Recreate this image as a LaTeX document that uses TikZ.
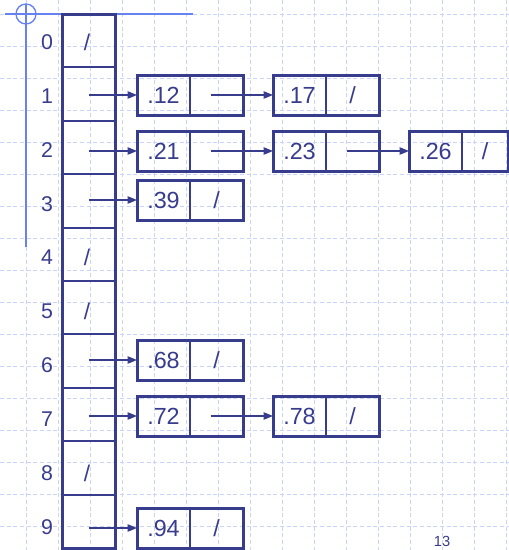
\documentclass[tikz,border=0pt]{standalone}
\usepackage{fontspec}
\setmainfont{Liberation Sans}
\usepackage{tikz}
\usetikzlibrary{arrows.meta, positioning}

\definecolor{navy}{RGB}{56,60,140}
\definecolor{gridblue}{RGB}{200,212,250}
\definecolor{decoblue}{RGB}{102,130,240}

% null pointer, set a little left of the cell centre
\newcommand{\nil}{/\hspace{9pt}}

\begin{document}
\begin{tikzpicture}[
    x=0.75pt, y=-0.75pt,
    grid/.style={draw=gridblue, line width=0.75pt, dash pattern=on 3pt off 2pt},
    deco/.style={draw=decoblue, line width=1pt},
    slot/.style={draw=navy, line width=1.5pt, minimum width=39.75pt, minimum height=40.05pt, inner sep=0pt, outer sep=0pt},
    frame/.style={draw=navy, line width=2.25pt},
    val/.style={draw=navy, line width=1.5pt, minimum width=39.75pt, minimum height=30pt, inner sep=0pt, outer sep=0pt, text=navy, font=\fontsize{17.5}{20}\selectfont},
    ptr/.style={val},
    idx/.style={text=navy, font=\fontsize{16}{18}\selectfont, inner sep=0pt},
    nil/.style={text=navy, font=\fontsize{17}{20}\selectfont, inner sep=0pt},
    link/.style={draw=navy, line width=0.9pt, -{Triangle[length=7pt, width=5.5pt]}},
    >=Stealth
]
\clip (0,0) rectangle (509,550);

% background grid of the slide
\foreach \i in {0,...,15}
  \draw[grid] (26+32*\i,0) -- (26+32*\i,550);
\foreach \j in {0,...,16}
  \draw[grid] (0,14.7+32*\j) -- (509,14.7+32*\j);

% slide corner mark
\draw[deco] (5,14) -- (193,14);
\draw[deco, line width=1.5pt] (26,4) -- (26,247);
\draw[deco] (26,14) circle[radius=10];

% bucket array
\foreach \k in {0,...,9}
  \node[slot] (s\k) at (88.5,40.7+53.4*\k) {};
\draw[frame] (s0.north west) rectangle (s9.south east);
\foreach \k in {0,...,9}
  \node[idx] (i\k) at (47,42+53.9*\k) {\k};
\foreach \k in {0,4,5,8}
  \node[nil] (n\k) at (87,42+53.9*\k) {/};

% bucket lists
\node[val] (v12) at (163.5,95) {.12};
\node[ptr, right=0pt of v12] (p12) {};
\node[val, right=22.5pt of p12] (v17) {.17};
\node[ptr, right=0pt of v17] (p17) {\nil};

\node[val] (v21) at (163.5,151) {.21};
\node[ptr, right=0pt of v21] (p21) {};
\node[val, right=22.5pt of p21] (v23) {.23};
\node[ptr, right=0pt of v23] (p23) {};
\node[val, right=22.5pt of p23] (v26) {.26};
\node[ptr, right=0pt of v26, minimum width=34.5pt] (p26) {\nil};

\node[val] (v39) at (163.5,200) {.39};
\node[ptr, right=0pt of v39] (p39) {\nil};

\node[val] (v68) at (163.5,360) {.68};
\node[ptr, right=0pt of v68] (p68) {\nil};

\node[val] (v72) at (163.5,416) {.72};
\node[ptr, right=0pt of v72] (p72) {};
\node[val, right=22.5pt of p72] (v78) {.78};
\node[ptr, right=0pt of v78] (p78) {\nil};

\node[val] (v94) at (163.5,528) {.94};
\node[ptr, right=0pt of v94] (p94) {\nil};

\foreach \a/\b in {v12/p12, v17/p17, v21/p21, v23/p23, v26/p26, v39/p39, v68/p68, v72/p72, v78/p78, v94/p94}
  \draw[frame] (\a.north west) rectangle (\b.south east);

\foreach \s/\t in {s1/v12, s2/v21, s3/v39, s6/v68, s7/v72, s9/v94}
  \draw[link] (\s |- \t.west) -- (\t.west);
\foreach \s/\t in {p12/v17, p21/v23, p23/v26, p72/v78}
  \draw[link] ([xshift=-4.5pt]\s.center) -- (\t.west);

\node[text=navy, font=\fontsize{11}{12}\selectfont] (pg) at (442,541) {13};

\end{tikzpicture}
\end{document}
